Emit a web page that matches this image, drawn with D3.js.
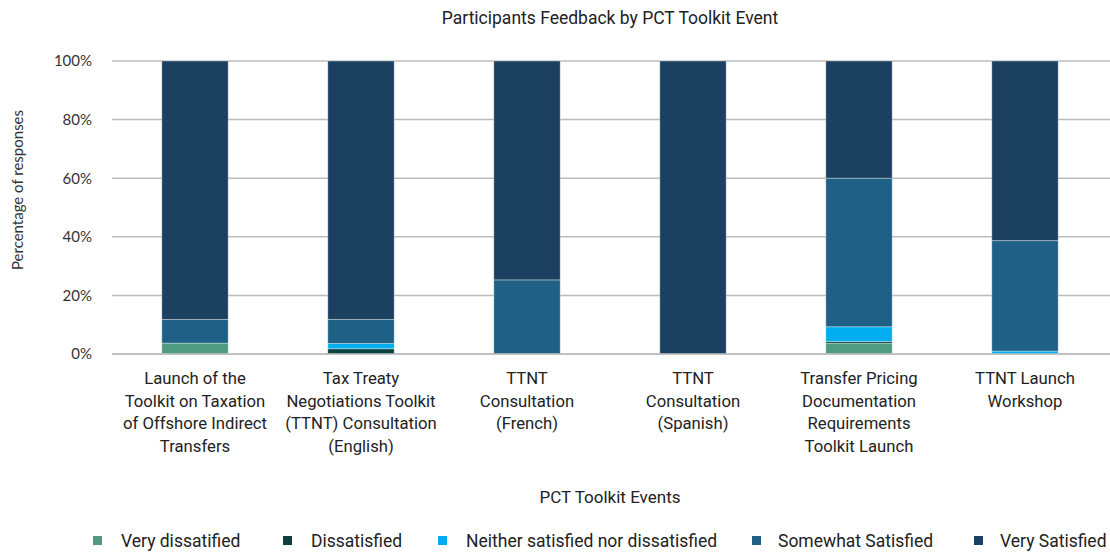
<!DOCTYPE html>
<html>
<head>
<meta charset="utf-8">
<script src="https://cdn.jsdelivr.net/npm/d3@7"></script>
<style>
  body { margin: 0; background: #fff; }
  svg { display: block; }
</style>
</head>
<body>
<div id="chart"></div>
<script>
// categories (label lines)
const events = [
	['Launch of the', 'Toolkit on Taxation', 'of Offshore Indirect', 'Transfers'],
	['Tax Treaty', 'Negotiations Toolkit', '(TTNT) Consultation', '(English)'],
	['TTNT', 'Consultation', '(French)'],
	['TTNT', 'Consultation', '(Spanish)'],
	['Transfer Pricing', 'Documentation', 'Requirements', 'Toolkit Launch'],
	['TTNT Launch', 'Workshop'],
];
const levels = ['Very dissatified', 'Dissatisfied', 'Neither satisfied nor dissatisfied', 'Somewhat Satisfied', 'Very Satisfied'];

// share of responses (%), one array per level
const veryDissatisfied = [3.7, 0, 0, 0, 3.7, 0];
const dissatisfied = [0, 1.8, 0, 0, 0.6, 0];
const neither = [0, 1.8, 0, 0, 5.0, 1.0];
const somewhatSatisfied = [8.1, 8.2, 25.3, 0, 50.7, 37.7];
const verySatisfied = [88.2, 88.2, 74.7, 100, 40.0, 61.3];

const yTicks = [0, 20, 40, 60, 80, 100];
const colors = ['#4f9b82', '#08413f', '#00adef', '#1f6186', '#1c4060'];

const series = [veryDissatisfied, dissatisfied, neither, somewhatSatisfied, verySatisfied];
const rows = events.map((e, i) => {
	const r = { i: i };
	levels.forEach((l, j) => (r[l] = series[j][i]));
	return r;
});

const W = 1110, H = 553;
const margin = { top: 61, right: 0, bottom: 199, left: 112 };
const width = W - margin.left - margin.right;
const height = H - margin.top - margin.bottom;

const din = 'Roboto, "DejaVu Sans", sans-serif';
const cal = 'Lato, "Open Sans", sans-serif';

const svg = d3.select('#chart').append('svg').attr('width', W).attr('height', H);

const x = d3.scaleBand().domain(d3.range(events.length)).range([margin.left, W - 2]).paddingInner(0.6).paddingOuter(0.3);
const y = d3.scaleLinear().domain([0, 100]).range([margin.top + height, margin.top]);

// title
svg.append('text')
	.attr('x', 610).attr('y', 24)
	.attr('text-anchor', 'middle')
	.style('font-family', din).style('font-size', '17.5px').style('fill', '#222')
	.text('Participants Feedback by PCT Toolkit Event');

// gridlines
svg.append('g')
	.selectAll('line')
	.data(yTicks)
	.join('line')
	.attr('x1', margin.left).attr('x2', W)
	.attr('y1', (d) => y(d)).attr('y2', (d) => y(d))
	.style('stroke', '#bdbdbd').style('stroke-width', 1.5);

// y axis labels
const yAxis = svg.append('g')
	.attr('transform', `translate(${margin.left},0)`)
	.call(d3.axisLeft(y).tickValues(yTicks).tickFormat((d) => d + '%').tickSize(0).tickPadding(20));
yAxis.select('.domain').remove();
yAxis.selectAll('text').style('font-family', cal).style('font-size', '15px').style('fill', '#333');

svg.append('text')
	.attr('transform', `translate(23,190) rotate(-90)`)
	.attr('text-anchor', 'middle')
	.style('font-family', cal).style('font-size', '15px').style('fill', '#333')
	.text('Percentage of responses');

// stacked bars
const stacked = d3.stack().keys(levels)(rows);
svg.append('g')
	.selectAll('g')
	.data(stacked)
	.join('g')
	.style('fill', (d, i) => colors[i])
	.selectAll('rect')
	.data((d) => d)
	.join('rect')
	.attr('x', (d) => x(d.data.i))
	.attr('width', x.bandwidth())
	.attr('y', (d) => y(d[1]))
	.attr('height', (d) => y(d[0]) - y(d[1]))
	.style('stroke', 'rgba(255,255,255,0.35)')
	.style('stroke-width', 1);

// baseline
svg.append('line')
	.attr('x1', margin.left).attr('x2', W)
	.attr('y1', y(0)).attr('y2', y(0))
	.style('stroke', '#bdbdbd').style('stroke-width', 1.5);

// category labels
const cat = svg.append('g')
	.selectAll('text')
	.data(events)
	.join('text')
	.attr('x', (d, i) => x(i) + x.bandwidth() / 2)
	.attr('y', 384)
	.attr('text-anchor', 'middle')
	.style('font-family', din).style('font-size', '16.7px').style('fill', '#222');
cat.selectAll('tspan')
	.data((d) => d)
	.join('tspan')
	.attr('x', function () { return d3.select(this.parentNode).attr('x'); })
	.attr('dy', (d, i) => (i === 0 ? 0 : 22.5))
	.text((d) => d);

svg.append('text')
	.attr('x', 610).attr('y', 503)
	.attr('text-anchor', 'middle')
	.style('font-family', din).style('font-size', '17px').style('fill', '#222')
	.text('PCT Toolkit Events');

// legend
const legendX = [93, 283, 438, 752, 974];
const legend = svg.append('g')
	.selectAll('g')
	.data(levels)
	.join('g')
	.attr('transform', (d, i) => `translate(${legendX[i]},541)`);
legend.append('rect')
	.attr('x', 0).attr('y', -5).attr('width', 9).attr('height', 9)
	.style('fill', (d, i) => colors[i]);
legend.append('text')
	.attr('x', (d, i) => (i < 3 ? 28 : 26))
	.attr('y', 6)
	.style('font-family', din).style('font-size', '17.5px').style('fill', '#222')
	.text((d) => d);
</script>
</body>
</html>
